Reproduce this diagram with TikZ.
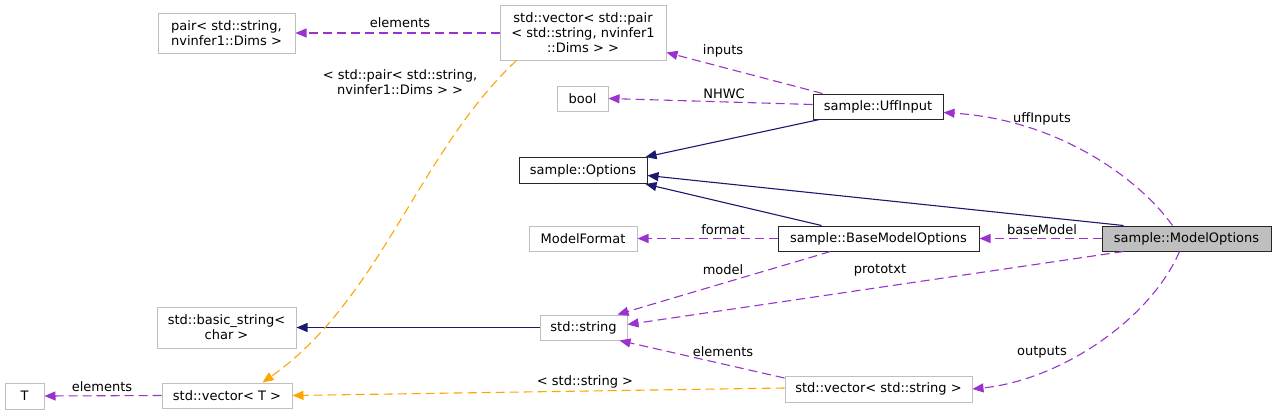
\documentclass[tikz,border=0pt]{standalone}
\usepackage{fontspec}
\setmainfont{DejaVu Sans}
\usetikzlibrary{arrows.meta,calc}
\definecolor{purp}{HTML}{9A32CD}
\definecolor{orng}{HTML}{FFA500}
\definecolor{navyb}{HTML}{191970}
\definecolor{gbox}{HTML}{BFBFBF}
\begin{document}
\begin{tikzpicture}[x=1pt,y=-1pt,
  box/.style={draw=gbox, line width=1pt, inner sep=0pt, align=center,
    font=\fontsize{13}{15}\selectfont},
  cls/.style={box, draw=black!85},
  lbl/.style={inner sep=0pt, align=center, font=\fontsize{13}{15}\selectfont},
  tip/.style={-{Triangle[length=11pt,width=9pt]}},
  mem/.style={tip, draw=purp, fill=none, line width=1.1pt, dash pattern=on 9pt off 5pt},
  tmpl/.style={tip, draw=orng, line width=1.1pt, dash pattern=on 9pt off 5pt},
  inh/.style={tip, draw=navyb, line width=1.1pt}]
\useasboundingbox (0,0) rectangle (1276,415);
\fill[white] (0,0) rectangle (1276,415);

% nodes
\node[box, minimum width=137pt, minimum height=40pt] (pair) at (226.5,33) {pair< std::string,\\ nvinfer1::Dims >};
\node[box, minimum width=166pt, minimum height=55pt] (vpair) at (583,32.5) {std::vector< std::pair\\< std::string, nvinfer1\\::Dims > >};
\node[box, minimum width=51pt, minimum height=25pt] (bool) at (582.5,98.5) {bool};
\node[cls, minimum width=130pt, minimum height=25pt] (uff) at (878,106.5) {sample::UffInput};
\node[cls, minimum width=128pt, minimum height=26pt] (opts) at (583,170.5) {sample::Options};
\node[box, minimum width=108pt, minimum height=25pt] (mfmt) at (583,238.5) {ModelFormat};
\node[cls, minimum width=201pt, minimum height=25pt] (bmo) at (878.5,238.5) {sample::BaseModelOptions};
\node[cls, fill=gbox, minimum width=169pt, minimum height=25pt] (mo) at (1186.5,238.5) {sample::ModelOptions};
\node[box, minimum width=139pt, minimum height=41pt] (bstr) at (226.5,327.5) {std::basic\_string<\\ char >};
\node[box, minimum width=87pt, minimum height=25pt] (str) at (583.5,327.5) {std::string};
\node[box, minimum width=39pt, minimum height=26pt] (T) at (24.5,396) {T};
\node[box, minimum width=130pt, minimum height=25pt] (vT) at (227,395.5) {std::vector< T >};
\node[box, minimum width=187pt, minimum height=26pt] (vstr) at (878.5,389) {std::vector< std::string >};

% edges
\draw[mem] (vpair.west |- pair.east) -- (pair.east);
\node[lbl] (l1) at (400,23) {elements};

\draw[mem] ([xshift=10pt]uff.north west) -- ([yshift=8pt]vpair.south east);
\node[lbl] (l2) at (723,51) {inputs};

\draw[mem] ([yshift=2pt]uff.west) -- (bool.east);
\node[lbl] (l3) at (724,94) {NHWC};

\draw[inh] ([xshift=7pt]uff.south west) -- ([xshift=-2pt]opts.north east);
\draw[inh] ([xshift=22pt]mo.north west) -- ([yshift=-5pt]opts.east);
\draw[inh] ([xshift=44pt]bmo.north west) -- ([xshift=-2pt]opts.south east);

\draw[mem] ([xshift=71pt]mo.north west) .. controls (1140,180) and (1060,120) .. ([yshift=-6pt]uff.east);
\node[lbl] (l4) at (1042,119) {uffInputs};

\draw[mem] (mo.west) -- (bmo.east);
\node[lbl] (l5) at (1042,230) {baseModel};

\draw[mem] (bmo.west) -- (mfmt.east);
\node[lbl] (l6) at (723,230) {format};

\draw[mem] ([xshift=53pt]bmo.south west) -- ([xshift=-10pt]str.north east);
\node[lbl] (l7) at (723,270) {model};

\draw[mem] ([xshift=22pt]mo.south west) -- ([yshift=3pt]str.east);
\node[lbl] (l8) at (880,270) {prototxt};

\draw[mem] ([xshift=78pt]mo.south west) .. controls (1150,320) and (1060,380) .. (vstr.east);
\node[lbl] (l9) at (1042,352) {outputs};

\draw[mem] ([yshift=11pt]vstr.west) -- ([xshift=-8pt]str.south east);
\node[lbl] (l10) at (723,352) {elements};

\draw[inh] (str.west) -- (bstr.east);

\draw[tmpl] ([yshift=1pt]vstr.west) -- (vT.east);
\node[lbl] (l11) at (585,382) {< std::string >};

\draw[tmpl] ([xshift=17pt]vpair.south west) .. controls (420,150) and (380,300) .. ([xshift=-30pt]vT.north east);
\node[lbl] (l12) at (400,82) {< std::pair< std::string,\\ nvinfer1::Dims > >};

\draw[mem] (vT.west) -- (T.east);
\node[lbl] (l13) at (102,387) {elements};
\end{tikzpicture}
\end{document}
